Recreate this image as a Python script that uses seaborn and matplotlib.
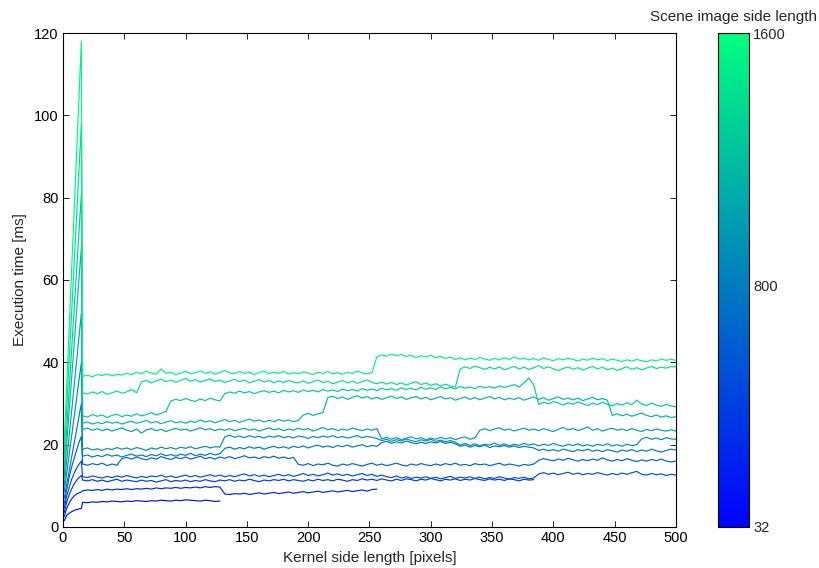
import numpy as np
import pandas as pd
import matplotlib
matplotlib.use("Agg")
import matplotlib.pyplot as plt
import seaborn as sns

# ---------------- data ----------------
scene_sizes = [128, 256, 384, 512, 640, 768, 896, 1024, 1152, 1280, 1408, 1536]

# direct convolution part: kernel sizes 1..15
direct_kernels = [1, 3, 5, 7, 9, 11, 13, 15]
direct_times = [
    [1.5, 2.8, 3.3, 3.7, 4.0, 4.2, 4.4, 4.5],
    [2.5, 4.5, 5.8, 6.8, 7.5, 8.0, 8.3, 8.5],
    [3.5, 6.0, 7.8, 9.2, 10.4, 11.3, 12.0, 12.5],
    [4.5, 7.5, 9.5, 11.5, 13.0, 14.2, 15.2, 16.0],
    [5.5, 9.0, 12.0, 14.5, 16.5, 18.5, 20.5, 22.0],
    [7.0, 10.3, 13.6, 16.9, 20.1, 23.4, 26.7, 30.0],
    [8.5, 13.0, 17.5, 22.0, 26.5, 31.0, 35.5, 40.0],
    [10.0, 16.0, 22.0, 28.0, 34.0, 40.0, 46.0, 52.0],
    [12.0, 20.0, 28.0, 36.0, 44.0, 52.0, 60.0, 68.0],
    [14.0, 23.6, 33.1, 42.7, 52.3, 61.9, 71.4, 81.0],
    [17.0, 28.6, 40.1, 51.7, 63.3, 74.9, 86.4, 98.0],
    [20.0, 34.0, 48.0, 62.0, 76.0, 90.0, 104.0, 118.0],
]

# FFT part: kernel sizes 16, 20, 24, ... (up to min(scene size, 500))
fft_kernels = list(range(16, 501, 4))

fft_128 = [6.0, 5.9, 6.1, 6.0, 6.2, 6.1, 6.3, 6.2, 6.1, 6.3, 6.2, 6.4, 6.3, 6.2, 6.4,
           6.3, 6.5, 6.4, 6.3, 6.5, 6.4, 6.6, 6.5, 6.4, 6.3, 6.5, 6.4, 6.2, 6.3]

fft_256 = [8.8, 9.0, 8.9, 9.1, 8.9, 9.2, 9.0, 9.2, 9.1, 9.3,
           9.1, 9.3, 9.2, 9.4, 9.2, 9.5, 9.3, 9.5, 9.4, 9.6,
           9.4, 9.6, 9.5, 9.7, 9.5, 9.8, 9.6, 9.8, 9.7,
           8.0, 7.9, 8.1, 8.0, 8.2, 7.9, 8.1, 8.3, 8.0, 8.2,
           8.4, 8.1, 8.3, 8.5, 8.2, 8.4, 8.6, 8.3, 8.5, 8.7,
           8.4, 8.6, 8.8, 8.5, 8.7, 8.9, 8.6, 8.8, 9.0, 8.7, 9.1, 9.2]

fft_384 = [11.4, 11.2, 11.5, 11.1, 11.4, 11.0, 11.3, 11.6, 11.1, 11.4,
           11.2, 11.0, 11.4, 11.1, 11.3, 10.9, 11.2, 11.5, 11.0, 11.3,
           11.1, 11.4, 11.0, 11.3, 11.1, 11.5, 11.2, 11.0, 11.4, 11.2,
           11.5, 11.1, 11.4, 11.2, 11.6, 11.3, 11.0, 11.4, 11.2, 11.5,
           11.3, 11.6, 11.2, 11.5, 11.3, 11.1, 11.5, 11.2, 11.6, 11.3,
           11.5, 11.2, 11.6, 11.4, 11.1, 11.5, 11.3, 11.7, 11.4, 11.6,
           11.3, 11.7, 11.4, 11.2, 11.6, 11.3, 11.7, 11.5, 11.2, 11.6,
           11.4, 11.8, 11.5, 11.2, 11.6, 11.4, 11.7, 11.3, 11.6, 11.4,
           11.8, 11.5, 11.3, 11.7, 11.4, 11.6, 11.3, 11.7, 11.5, 11.2,
           11.6, 11.4, 11.5]

fft_512 = [12.2, 12.0, 12.4, 12.1, 11.9, 12.3, 12.0, 12.4, 12.1, 12.5,
           12.2, 11.9, 12.3, 12.0, 12.4, 12.2, 12.6, 12.1, 12.4, 12.0,
           12.3, 12.6, 12.2, 12.5, 12.1, 12.4, 12.7, 12.3, 12.6, 12.2,
           12.5, 12.2, 12.6, 12.9, 12.4, 12.7, 12.3, 12.6, 12.2, 12.5,
           12.8, 12.4, 12.7, 12.3, 12.6, 13.0, 12.5, 12.8, 12.4, 12.7,
           13.1, 12.6, 12.9, 12.5, 12.8, 12.4, 12.7, 13.0, 12.5, 12.8,
           12.3, 12.6, 12.2, 12.0, 12.4, 11.9, 12.2, 11.8, 12.1, 11.9,
           12.2, 11.8, 12.1, 11.7, 12.0, 12.3, 11.8, 12.1, 11.9, 12.2,
           11.8, 12.1, 11.7, 12.0, 11.8, 12.2, 11.9, 11.6, 12.0, 11.8,
           12.1, 11.7, 11.9,
           12.9, 13.2, 12.8, 13.1, 12.7, 13.0, 13.3, 12.8, 13.1, 12.7,
           13.0, 12.8, 13.2, 12.9, 12.6, 13.0, 12.7, 13.1, 12.8, 13.2,
           13.5, 12.8, 12.6, 13.0, 12.7, 12.9, 12.5, 12.8, 12.6]

fft_640 = [15.3, 15.0, 15.4, 15.1, 15.5, 14.9, 15.3, 15.0,
           16.6, 16.9, 16.5, 17.0, 16.6, 16.3, 16.8, 16.5, 17.1, 16.7,
           16.4, 16.9, 16.6, 17.0, 16.5, 16.8, 17.2, 16.6, 16.9, 16.5,
           17.0, 16.7, 17.1, 16.6, 16.9, 17.3, 16.8, 17.0, 16.6, 17.1,
           16.8, 17.2, 16.7, 17.0, 16.6, 16.9,
           15.2, 15.0, 15.4, 14.9, 15.3, 15.1, 15.5, 15.0, 14.8, 15.3,
           15.0, 15.4, 15.1, 14.8, 15.2, 15.5, 15.0, 15.3, 14.9, 15.2,
           15.5, 15.1, 14.8, 15.3, 15.0, 15.4, 15.1, 14.9, 15.3, 15.0,
           15.4, 15.1, 15.5, 15.0, 15.2, 14.9, 15.4, 15.1, 15.3, 14.9,
           15.2, 15.5, 15.0, 15.3, 15.1, 14.8, 15.2, 15.0, 15.3,
           16.2, 16.6, 16.3, 16.1, 16.5, 16.2, 16.7, 16.3, 16.0, 16.4,
           16.1, 16.5, 16.2, 16.8, 16.3, 16.0, 16.4, 16.1, 16.6, 16.2,
           15.9, 16.3, 16.0, 16.4, 16.1, 16.5, 16.0, 15.8, 16.0]

fft_768 = [17.2, 17.5, 17.0, 17.4, 17.1, 17.6, 17.2, 17.5, 17.0, 17.4,
           17.7, 17.2, 17.5, 17.1, 17.6, 17.3, 17.8, 17.3, 17.6, 17.2,
           17.7, 17.4, 17.9, 17.3, 17.7, 17.4, 17.9, 17.5, 17.8,
           19.1, 19.4, 18.9, 19.3, 19.0, 19.5, 19.1, 19.4, 18.9, 19.3,
           19.6, 19.2, 19.5, 19.1, 19.6, 19.3, 19.7, 19.2, 19.6, 19.9,
           19.4, 19.7, 19.3, 19.8, 19.5, 19.9, 19.4, 19.7, 20.0, 19.5, 19.8, 19.6,
           20.5, 20.8, 20.3, 20.7, 20.4, 20.9, 20.5, 20.2, 20.6, 20.3,
           20.7, 20.4, 20.8, 20.3, 20.6, 20.2,
           19.6, 19.9, 19.4, 19.8, 19.5, 19.9, 19.3, 19.7, 19.5, 19.8,
           19.4, 19.7, 19.3, 19.6, 19.4, 19.2,
           18.6, 18.9, 18.5, 18.8, 18.4, 18.9, 18.6, 18.3, 18.8, 18.5,
           18.9, 18.4, 18.7, 18.3, 18.8, 18.5, 18.2, 18.7, 18.4, 18.8,
           18.3, 18.7, 18.4, 18.9, 18.5, 18.2, 18.6, 18.9, 18.7]

fft_896 = [18.9, 19.2, 18.7, 19.0, 18.6, 19.1, 18.8, 19.3, 18.9, 19.2,
           18.8, 19.3, 19.0, 18.6, 19.2, 18.9, 19.4, 19.0, 19.3, 18.9,
           19.4, 19.1, 19.5, 19.0, 19.3, 19.6, 19.2, 19.5, 19.4,
           21.9, 22.3, 21.8, 22.1, 21.7, 22.2, 21.8, 22.0, 21.6, 22.1,
           21.8, 22.2, 21.7, 22.0, 21.6, 22.1, 21.9, 21.5, 22.0, 21.7,
           22.1, 21.8, 22.2, 21.7, 22.0, 21.6, 21.9, 22.2, 21.7, 22.0, 21.8, 21.5,
           21.0, 21.3, 20.8, 21.2, 20.9, 21.4, 21.0, 20.7, 21.2, 20.9,
           21.3, 20.8, 21.1, 20.7, 21.0, 20.6,
           19.9, 20.3, 19.8, 20.2, 19.7, 20.1, 19.9, 20.4, 19.8, 20.2,
           19.7, 20.1, 19.8, 20.3, 19.9, 20.2, 19.7, 20.1, 19.8, 20.3,
           19.9, 19.6, 20.1, 19.8, 20.2, 19.7, 20.0, 19.6, 20.1, 19.8,
           20.2, 19.7, 20.0, 19.6, 20.1, 19.8, 20.0,
           21.4, 21.8, 21.3, 21.6, 21.2, 21.7, 21.4, 21.3]

fft_1024 = [23.7, 24.0, 23.5, 23.9, 23.4, 23.8, 23.3, 23.7, 24.1, 23.5,
            23.2, 23.8, 22.8, 23.6, 23.9, 23.4, 23.7, 23.2, 23.6, 24.0,
            23.5, 23.8, 23.3, 23.7, 24.1, 23.6, 23.9, 23.4, 23.8, 23.5,
            23.9, 23.4, 23.7, 24.0, 23.5, 23.8, 23.3, 23.7, 24.1, 23.6,
            23.9, 23.4, 23.8, 23.5, 24.0, 23.6, 23.9, 23.3, 23.7, 24.2,
            23.6, 23.9, 23.4, 23.8, 23.5, 24.0, 23.7, 23.4, 23.8, 23.5, 23.9,
            21.4, 21.8, 21.3, 21.7, 21.2, 21.6, 21.9, 21.4, 21.7, 21.2,
            21.6, 21.3, 21.8, 21.4, 21.7, 21.2, 21.6, 21.9, 21.3, 21.7,
            23.5, 23.9, 23.4, 23.8, 24.1, 23.5, 23.8, 23.3, 23.7, 24.0,
            23.5, 23.8, 23.4, 23.9, 23.5, 23.2, 23.7, 24.2, 23.6, 23.9,
            23.4, 23.8, 24.3, 23.5, 23.9, 23.3, 23.7, 24.0, 23.5, 23.8,
            23.4, 23.9, 23.5, 23.2, 23.7, 23.4, 23.8, 23.5, 23.3, 23.6, 23.3]

fft_1152 = [25.2, 25.5, 25.0, 25.4, 25.1, 25.6, 25.2, 25.5, 25.0, 25.4,
            25.7, 25.2, 25.5, 25.9, 25.3, 25.6, 25.1, 25.5, 25.8, 25.3,
            25.6, 25.2, 25.7, 25.4, 26.0, 25.5, 25.8, 25.3, 25.7, 26.1,
            25.6, 25.9, 25.4, 25.8, 26.2, 25.7, 26.0, 25.5, 25.9, 25.6,
            26.1, 25.7, 26.0, 25.6, 25.9,
            27.2, 27.6, 27.1, 27.5, 27.8,
            31.4, 31.8, 31.2, 31.6, 31.0, 31.5, 31.9, 31.3, 31.7, 31.1,
            31.5, 31.0, 31.4, 31.8, 31.2, 31.6, 31.0, 31.4, 31.7, 31.1,
            31.5, 30.9, 31.3, 31.7, 31.1, 31.4, 30.8, 31.2, 31.6, 31.0,
            31.4, 30.9, 31.3, 31.7, 31.1, 31.5, 30.9, 31.3, 31.0, 31.4,
            30.8, 31.2, 31.6, 31.0, 31.4, 30.8, 31.2, 31.6, 31.0, 31.3,
            30.9, 31.3, 30.7, 31.1, 31.5, 30.9, 31.2, 30.8,
            27.1, 27.5, 27.0, 27.4, 26.9, 27.3, 27.7, 27.1, 26.8, 27.2,
            26.7, 27.0, 26.6, 26.8]

fft_1280 = [27.0, 26.7, 27.3, 26.9, 27.2, 26.6, 27.1, 27.4, 26.8, 27.2,
            26.9, 27.5, 27.0, 27.3, 27.8, 27.2, 27.6, 28.1,
            30.6, 31.0, 30.7, 31.2, 30.8, 30.5, 31.1, 30.7, 31.3, 30.9, 30.6,
            32.4, 32.8, 32.5, 33.0, 32.6, 32.9, 32.4, 32.8, 33.1, 32.7,
            33.0, 32.6, 33.2, 32.8, 33.1, 32.7, 33.3, 32.9, 33.2, 32.8,
            33.4, 33.0, 33.3, 32.9, 33.5, 33.1, 33.4, 33.0, 33.6, 33.2,
            33.5, 33.1, 33.7, 33.3, 33.6, 33.2, 33.8, 33.4, 33.7, 33.3,
            33.9, 33.5, 33.8, 33.4, 34.0, 33.6, 33.9, 33.5, 34.1, 33.7,
            34.0, 33.6, 34.2, 33.8, 34.1, 33.7, 34.3, 33.9, 34.2, 34.6,
            34.0, 35.0, 36.2, 34.4,
            29.8, 30.3, 29.9, 30.5, 30.1, 29.6, 30.2, 29.8, 30.4, 29.9,
            29.5, 30.1, 29.7, 30.3, 29.8, 29.4, 30.0, 29.6, 30.2, 29.7,
            30.8, 29.9, 29.5, 30.1, 29.6, 29.3, 29.8, 29.4, 29.2]

fft_1408 = [32.6, 32.3, 32.8, 32.4, 32.9, 32.2, 32.6, 33.0, 32.5, 32.8, 33.4, 32.6,
            35.2, 35.6, 35.0, 35.5, 35.9, 35.3, 35.7, 35.1, 35.6, 36.1,
            35.4, 35.8, 35.2, 35.6, 36.0, 35.3, 35.7, 35.1, 35.5, 35.9,
            35.3, 35.7, 35.0, 35.4, 35.8, 35.2, 35.6, 35.0, 35.5, 35.1,
            35.6, 35.2, 35.0, 35.5, 34.9, 35.3, 35.7, 35.1, 35.4, 34.8,
            35.2, 35.6, 35.0, 35.4, 34.9, 35.3, 35.7, 35.1, 34.8, 35.2,
            34.7, 35.1, 34.6, 35.0, 34.5, 34.9, 35.3, 34.6, 35.0, 34.4,
            34.8, 34.3, 34.7, 34.2, 34.0,
            38.4, 38.9, 38.5, 39.1, 38.7, 38.3, 38.8, 38.4, 38.9, 38.2,
            38.6, 39.0, 38.4, 38.8, 38.3, 38.7, 39.2, 38.5, 38.9, 38.4,
            38.0, 38.5, 38.9, 38.3, 38.7, 38.1, 38.6, 39.0, 38.4, 38.8,
            38.2, 38.6, 38.0, 38.5, 38.9, 38.3, 38.7, 38.2, 38.6, 39.0,
            38.5, 38.8, 38.6, 39.0, 38.9]

fft_1536 = [36.6, 36.9, 36.5, 37.0, 36.8, 37.2, 36.7, 37.1, 36.9, 37.3,
            37.0, 37.6, 37.2, 37.8, 37.4, 37.1, 38.4, 37.3, 37.6, 37.0,
            37.4, 37.8, 37.2, 37.5, 37.9, 37.3, 37.7, 37.1, 37.5, 38.0,
            37.4, 37.2, 37.8, 37.3, 37.6, 37.0, 37.5, 37.9, 37.2, 37.6,
            37.3, 37.8, 37.1, 37.5, 37.2, 37.7, 37.4, 37.0, 37.6, 37.3,
            37.8, 37.2, 37.5, 37.1, 37.6, 37.3, 37.9, 37.4, 37.2, 37.5,
            41.3, 41.8, 41.5, 42.0, 41.6, 41.9, 41.4, 41.7, 41.2, 41.6,
            41.3, 41.7, 41.1, 41.5, 40.9, 41.3, 40.7, 41.1, 40.6, 41.0,
            40.7, 41.2, 40.8, 40.5, 41.0, 40.6, 41.1, 40.7, 41.3, 40.8,
            41.0, 40.6, 40.9, 40.5, 41.1, 40.7, 40.4, 40.9, 40.6, 41.0,
            40.7, 40.3, 40.8, 40.5, 41.0, 40.6, 40.9, 40.4, 40.8, 40.5,
            40.2, 40.6, 40.3, 40.7, 40.4, 40.1, 40.6, 40.3, 40.8, 40.5,
            40.7, 40.5]

fft_times = [fft_128, fft_256, fft_384, fft_512, fft_640, fft_768, fft_896,
             fft_1024, fft_1152, fft_1280, fft_1408, fft_1536]

# ---------------- build long table ----------------
rows = []
for size, dvals, fvals in zip(scene_sizes, direct_times, fft_times):
    ks = direct_kernels + fft_kernels[:len(fvals)]
    ts = dvals + fvals
    for k, t in zip(ks, ts):
        rows.append((size, k, t))
df = pd.DataFrame(rows, columns=["size", "kernel", "time"])

# ---------------- plot ----------------
sns.set_style("white")
plt.rcParams["font.family"] = ["Liberation Sans", "DejaVu Sans"]
plt.rcParams["font.size"] = 10.5

fig = plt.figure(figsize=(8.2, 5.68), dpi=100)
ax = fig.add_axes([0.0768, 0.0722, 0.7476, 0.8697])

norm = matplotlib.colors.Normalize(vmin=32, vmax=1600)
sns.lineplot(data=df, x="kernel", y="time", hue="size", units="size",
             estimator=None, palette="winter", hue_norm=norm,
             legend=False, linewidth=0.85, sort=True, ax=ax)

ax.set_xlim(0, 500)
ax.set_ylim(0, 120)
ax.set_xticks(range(0, 501, 50))
ax.set_yticks(range(0, 121, 20))
ax.set_xlabel("Kernel side length [pixels]", fontsize=11, labelpad=4)
ax.set_ylabel("Execution time [ms]", fontsize=11, labelpad=5)
ax.tick_params(direction="in", length=4, width=0.6, top=True, right=True,
               bottom=True, left=True, labelsize=10.5, colors="black", pad=3)
for s in ax.spines.values():
    s.set_visible(True)
    s.set_color("black")
    s.set_linewidth(0.8)

cax = fig.add_axes([0.8756, 0.0722, 0.0378, 0.8697])
sm = matplotlib.cm.ScalarMappable(norm=norm, cmap="winter")
cb = fig.colorbar(sm, cax=cax)
cb.set_ticks([32, 800, 1600])
cb.set_ticklabels(["32", "800", "1600"])
cax.tick_params(direction="in", length=4, width=0.6, left=True, right=True,
                labelsize=10.5, pad=3)
cb.outline.set_edgecolor("black")
cb.outline.set_linewidth(0.8)
cax.set_title("Scene image side length", fontsize=11, pad=9)

fig.savefig("out.png", dpi=100)
